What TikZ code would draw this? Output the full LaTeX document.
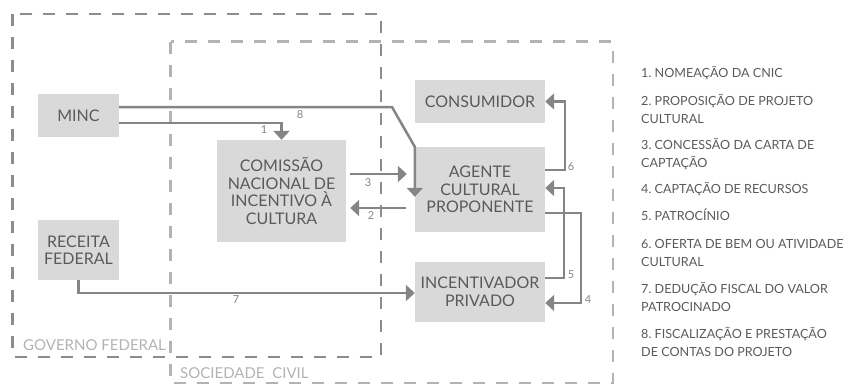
\documentclass[tikz,border=0pt]{standalone}
\usepackage{fontspec}
\setmainfont{Lato}
\usetikzlibrary{arrows.meta}
\definecolor{boxgray}{HTML}{D9D9D9}
\definecolor{txtgray}{HTML}{5A5A5A}
\definecolor{arrgray}{HTML}{858585}
\definecolor{govgray}{HTML}{8C8C8C}
\definecolor{socgray}{HTML}{B3B3B3}
\frenchspacing

\begin{document}
\begin{tikzpicture}[x=1pt,y=-1pt,
    box/.style={fill=boxgray,text=txtgray,align=center,inner sep=0pt,
      font=\fontsize{16}{17.5}\selectfont},
    flow/.style={draw=arrgray,line width=2.5pt,-{Triangle[length=9pt,width=16pt]}},
    num/.style={text=arrgray,inner sep=0pt,font=\fontsize{11}{11}\selectfont},
    zone/.style={line width=2.5pt,dash pattern=on 12pt off 11pt},
    zonelabel/.style={text=socgray,inner sep=0pt,anchor=base west,font=\fontsize{15}{15}\selectfont},
    legend/.style={text=txtgray,inner sep=0pt,anchor=base west,font=\fontsize{12.6}{12.6}\selectfont}]
  \useasboundingbox (0,0) rectangle (858,386);
  % the two areas
  \draw[zone,govgray] (12.7,14) rectangle (381,357);
  \draw[zone,socgray] (170.7,41.7) rectangle (613,383);
  \node[zonelabel] (gov) at (23,350.5) {GOVERNO FEDERAL};
  \node[zonelabel] (soc) at (180,378.5) {SOCIEDADE\ \ CIVIL};
  % actors
  \node[box,minimum width=81pt,minimum height=43pt] (minc) at (78.5,115.5) {MINC};
  \node[box,minimum width=81pt,minimum height=60pt] (receita) at (78.5,250) {RECEITA\\FEDERAL};
  \node[box,minimum width=129pt,minimum height=102pt] (cnic) at (281.5,191) {COMISSÃO\\NACIONAL DE\\INCENTIVO À\\CULTURA};
  \node[box,minimum width=130pt,minimum height=43pt] (consumidor) at (480,101.5) {CONSUMIDOR};
  \node[box,minimum width=130pt,minimum height=85pt] (agente) at (480,189.5) {AGENTE\\CULTURAL\\PROPONENTE};
  \node[box,minimum width=130pt,minimum height=60pt] (incentivador) at (480,292) {INCENTIVADOR\\PRIVADO};
  % flows
  \draw[flow] ([yshift=-7.5pt]minc.east) -| (cnic.north);
  \draw[flow] ([yshift=8.5pt]minc.east) -- (392,107) -- (agente.north west) -- ([yshift=-50pt]agente.north west);
  \draw[flow] ([xshift=4pt,yshift=17pt]cnic.east) -- ([xshift=-8pt,yshift=15.5pt]agente.west);
  \draw[flow] ([xshift=-9pt,yshift=-18.5pt]agente.west) -- ([xshift=4pt,yshift=-17pt]cnic.east);
  \draw[flow] (receita.south) |- ([yshift=-1pt]incentivador.west);
  \draw[flow] ([yshift=19.5pt]agente.east) -- ++(20,0) |- (consumidor.east);
  \draw[flow] ([yshift=14pt]incentivador.east) -- ++(19,0) |- ([yshift=1.5pt]agente.east);
  \draw[flow] ([yshift=-23.5pt]agente.east) -- ++(36,0) |- ([yshift=-11pt]incentivador.east);
  \node[num] (n1) at (264,130) {1};
  \node[num] (n2) at (371,216) {2};
  \node[num] (n3) at (368,183) {3};
  \node[num] (n4) at (588,300) {4};
  \node[num] (n5) at (571,275) {5};
  \node[num] (n6) at (571,167) {6};
  \node[num] (n7) at (236,300) {7};
  \node[num] (n8) at (300,115) {8};
  % legend
  \foreach \y/\t [count=\i] in {77/{1. NOMEAÇÃO DA CNIC},105/{2. PROPOSIÇÃO DE PROJETO},123/{CULTURAL},
      149/{3. CONCESSÃO DA CARTA DE},167/{CAPTAÇÃO},193/{4. CAPTAÇÃO DE RECURSOS},220/{5. PATROCÍNIO},
      248/{6. OFERTA DE BEM OU ATIVIDADE},266.5/{CULTURAL},293/{7. DEDUÇÃO FISCAL DO VALOR},
      311.5/{PATROCINADO},338/{8. FISCALIZAÇÃO E PRESTAÇÃO},356.5/{DE CONTAS DO PROJETO}}
    \node[legend] (leg\i) at (641,\y) {\t};
\end{tikzpicture}
\end{document}
